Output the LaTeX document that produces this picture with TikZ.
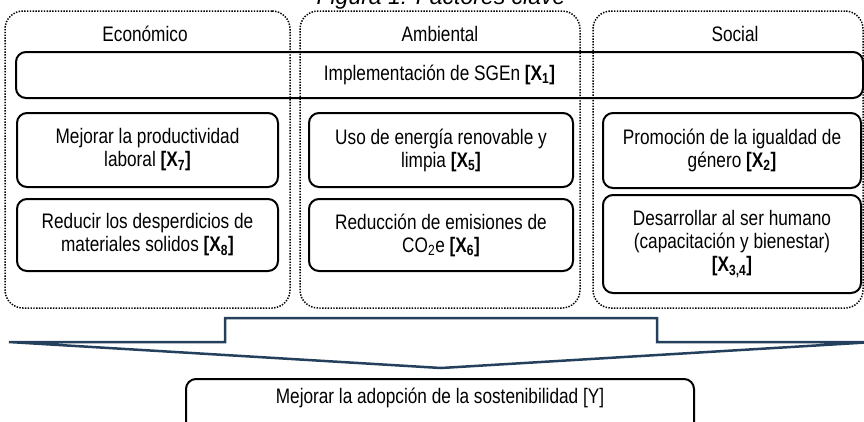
\documentclass[tikz,border=0pt]{standalone}
\usepackage{fontspec}
\setmainfont{Liberation Sans}[FakeStretch=0.82]
\newfontfamily\titlefont{Liberation Sans}
\definecolor{arrowblue}{RGB}{36,64,92}
\begin{document}
\begin{tikzpicture}[x=1pt,y=-1pt,
  group/.style={draw, dash pattern=on 1.4pt off 1.4pt, line width=1.5pt, rounded corners=18pt, inner sep=0pt},
  fbox/.style={draw, line width=2pt, rounded corners=10pt, align=center, inner sep=0pt},
  head/.style={inner sep=0pt},
  every node/.style={font=\fontsize{21}{23}\selectfont}]
\useasboundingbox (0,0) rectangle (864,421);
\clip (0,0) rectangle (864,421);
% title
\node[anchor=base, inner sep=0pt, font=\titlefont\itshape\fontsize{23}{25}\selectfont] (title) at (441,4) {Figura 1: Factores clave};
% groups
\node[group, minimum width=285pt, minimum height=297pt] (geco) at (147.5,159.5) {};
\node[group, minimum width=280pt, minimum height=297pt] (gamb) at (440,159.5) {};
\node[group, minimum width=270pt, minimum height=297pt] (gsoc) at (728,159.5) {};
% headers
\node[head] (heco) at (145,34) {Económico};
\node[head] (hamb) at (440,34) {Ambiental};
\node[head] (hsoc) at (735,34) {Social};
% wide box
\node[fbox, minimum width=847pt, minimum height=46pt] (sgen) at (439.5,75) {Implementación de SGEn \textbf{[X\textsubscript{1}]}};
% economic
\node[fbox, minimum width=261pt, minimum height=74pt] (x7) at (147.5,150) {Mejorar la productividad\\laboral \textbf{[X\textsubscript{7}]}};
\node[fbox, minimum width=261pt, minimum height=72pt] (x8) at (147.5,235) {Reducir los desperdicios de\\materiales solidos \textbf{[X\textsubscript{8}]}};
% ambiental
\node[fbox, minimum width=264pt, minimum height=74pt] (x5) at (441,150) {Uso de energía renovable y\\limpia \textbf{[X\textsubscript{5}]}};
\node[fbox, minimum width=264pt, minimum height=72pt] (x6) at (441,235) {Reducción de emisiones de\\CO\textsubscript{2}e \textbf{[X\textsubscript{6}]}};
% social
\node[fbox, minimum width=258pt, minimum height=75pt] (x2) at (732,150.5) {Promoción de la igualdad de\\género \textbf{[X\textsubscript{2}]}};
\node[fbox, minimum width=258pt, minimum height=98pt] (x34) at (732,244) {Desarrollar al ser humano\\(capacitación y bienestar)\\\textbf{[X\textsubscript{3,4}]}};
% big arrow
\draw[arrowblue, line width=2.5pt, line join=miter]
  (9,342) -- (225,342) -- (225,318) -- (657,318) -- (657,342) -- (874,342) -- (441,368) -- cycle;
% result box
\node[fbox, minimum width=508pt, minimum height=70pt, anchor=north] (y) at (440,378) {};
\node[head] (ytext) at (440,398) {Mejorar la adopción de la sostenibilidad [Y]};
\end{tikzpicture}
\end{document}
